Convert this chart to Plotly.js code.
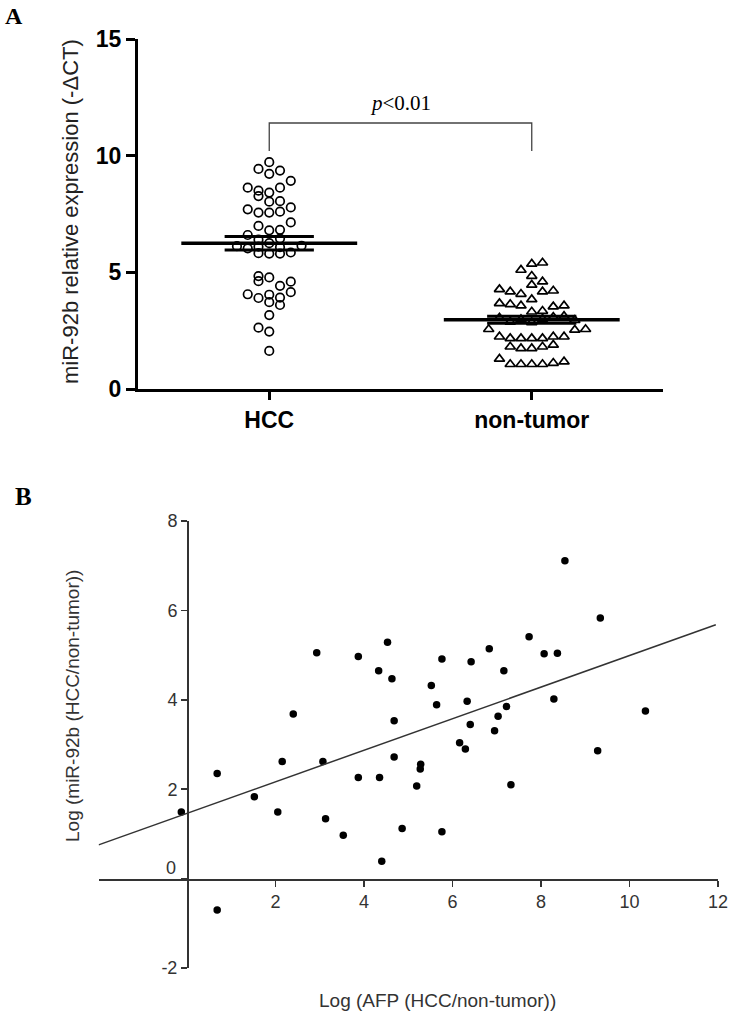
<!DOCTYPE html>
<html>
<head>
<meta charset="utf-8">
<script src="https://cdn.plot.ly/plotly-3.0.1.min.js"></script>
<style>html,body{margin:0;padding:0;background:#fff;}#chart{width:734px;height:1022px;}</style>
</head>
<body>
<div id="chart"></div>
<script>
// ---------- Panel A data ----------
const categories = ["HCC", "non-tumor"];
const hccValues = [9.72,9.43,9.36,9.22,8.92,8.63,8.50,8.42,8.63,8.27,8.03,8.05,7.70,7.56,7.56,7.60,7.78,7.14,6.99,6.80,6.82,6.60,6.40,6.45,6.25,6.12,6.03,6.10,6.08,6.14,5.82,5.80,5.80,5.85,4.84,4.78,4.62,4.42,4.60,4.06,3.90,4.04,3.92,4.15,3.72,3.60,3.17,2.63,2.46,1.63];
const hccCols   = [0,-1,1,0,2,-2,-1,0,1,-1,0,1,-2,-1,0,1,2,2,-1,0,1,-2,-1,1,0,-3,-2,-1,1,3,-1,0,1,2,-1,0,-1,1,2,-2,-1,0,1,2,0,1,0,-1,0,0];
const ntValues  = [5.36,5.41,5.10,4.84,4.46,4.60,4.27,4.17,4.17,4.21,4.07,3.84,3.67,3.63,3.57,3.53,3.57,3.31,3.34,3.05,2.88,2.98,2.85,3.00,3.08,3.12,2.95,2.56,2.53,2.56,2.24,2.17,2.17,2.17,2.17,2.24,2.24,1.81,1.74,1.74,1.81,1.89,1.29,1.06,1.06,1.06,1.06,1.11,1.17];
const ntCols    = [0,1,-1,0,0,1,-3,-2,1,2,-1,0,-3,-2,-1,2,3,0,1,-3,-2,-1,0,1,2,3,4,-4,4,5,-3,-2,-1,0,1,2,3,-2,-1,0,1,2,-3,-2,-1,0,1,2,3];
const groupMeans = [6.25, 2.97];
const groupSEM   = [0.29, 0.15];
const bracketLow = 10.2, bracketHigh = 11.4;
const pLabel = "<i>p</i>&lt;0.01";
const yTicksA = [0, 5, 10, 15];

// ---------- Panel B data ----------
const afpLog = [-0.13,0.68,0.68,1.52,2.15,2.05,3.07,3.13,3.53,3.87,4.35,4.40,4.68,4.86,5.19,5.27,5.28,5.76,2.93,3.87,4.33,2.40,8.54,9.34,7.73,8.07,8.37,4.53,6.83,5.76,6.42,7.16,4.63,5.52,8.29,6.33,5.64,7.22,7.03,10.36,4.68,6.40,6.95,6.16,6.29,9.28,7.32];
const mirLog = [1.49,2.35,-0.70,1.83,2.62,1.49,2.62,1.34,0.97,2.26,2.26,0.39,2.72,1.12,2.07,2.45,2.56,1.05,5.05,4.97,4.65,3.68,7.11,5.83,5.41,5.03,5.04,5.29,5.14,4.91,4.85,4.65,4.47,4.32,4.02,3.97,3.89,3.85,3.63,3.75,3.53,3.45,3.31,3.04,2.90,2.86,2.10];
const fitSlope = 0.353, fitIntercept = 1.46;
const fitXRange = [-2, 11.95];
const xTicksB = [2, 4, 6, 8, 10, 12];
const yTicksB = [-2, 0, 2, 4, 6, 8];

// ---------- geometry helpers ----------
const W = 734, H = 1022;
const px = v => v / W;
const py = v => 1 - v / H;
const colStep = 0.041;

const traces = [];
traces.push({
  x: hccCols.map(c => 0 + c * colStep), y: hccValues,
  type: 'scatter', mode: 'markers', xaxis: 'x', yaxis: 'y',
  marker: {symbol: 'circle-open', size: 8.5, color: '#000', line: {width: 1.7, color: '#000'}},
  hoverinfo: 'y', showlegend: false, cliponaxis: false
});
traces.push({
  x: ntCols.map(c => 1 + c * colStep), y: ntValues,
  type: 'scatter', mode: 'markers', xaxis: 'x', yaxis: 'y',
  marker: {symbol: 'triangle-up-open', size: 9, color: '#000', line: {width: 1.7, color: '#000'}},
  hoverinfo: 'y', showlegend: false, cliponaxis: false
});
groupMeans.forEach((m, i) => {
  traces.push({x: [i - 0.335, i + 0.335], y: [m, m], type: 'scatter', mode: 'lines', xaxis: 'x', yaxis: 'y',
    line: {color: '#000', width: 3.5}, showlegend: false, hoverinfo: 'skip'});
  [m + groupSEM[i], m - groupSEM[i]].forEach(s => {
    traces.push({x: [i - 0.17, i + 0.17], y: [s, s], type: 'scatter', mode: 'lines', xaxis: 'x', yaxis: 'y',
      line: {color: '#000', width: 3}, showlegend: false, hoverinfo: 'skip'});
  });
});
traces.push({x: [0, 0, 1, 1], y: [bracketLow, bracketHigh, bracketHigh, bracketLow], type: 'scatter', mode: 'lines',
  xaxis: 'x', yaxis: 'y', line: {color: '#444', width: 1.3}, showlegend: false, hoverinfo: 'skip'});

traces.push({
  x: afpLog, y: mirLog, type: 'scatter', mode: 'markers', xaxis: 'x2', yaxis: 'y2',
  marker: {symbol: 'circle', size: 7.5, color: '#000'}, showlegend: false, cliponaxis: false
});
traces.push({
  x: fitXRange, y: fitXRange.map(v => fitIntercept + fitSlope * v), type: 'scatter', mode: 'lines',
  xaxis: 'x2', yaxis: 'y2', line: {color: '#333', width: 1.5}, showlegend: false, hoverinfo: 'skip'
});

const boldTick = {family: 'Arial, Liberation Sans, sans-serif', size: 23, color: '#000', weight: 'bold'};
const thinTick = {family: 'Arial, Liberation Sans, sans-serif', size: 18, color: '#333'};
const C = {xanchor: 'center', yanchor: 'middle', showarrow: false, xref: 'paper', yref: 'paper'};

const layout = {
  width: W, height: H,
  margin: {l: 0, r: 0, t: 0, b: 0},
  paper_bgcolor: '#fff', plot_bgcolor: 'rgba(0,0,0,0)',
  font: {family: 'Arial, Liberation Sans, sans-serif', color: '#000'},
  showlegend: false,
  xaxis: {
    domain: [px(138), px(663)], range: [-0.5, 1.5], anchor: 'y',
    tickvals: [0, 1], ticktext: categories, tickfont: boldTick,
    showline: true, linewidth: 3, linecolor: '#000', ticks: 'outside', ticklen: 8, tickwidth: 3, tickcolor: '#000',
    showgrid: false, zeroline: false, fixedrange: true
  },
  yaxis: {
    domain: [py(389), py(39)], range: [0, 15], anchor: 'x',
    tickvals: yTicksA, tickfont: boldTick,
    showline: true, linewidth: 3, linecolor: '#000', ticks: 'outside', ticklen: 9, tickwidth: 3, tickcolor: '#000',
    showgrid: false, zeroline: false, fixedrange: true
  },
  xaxis2: {
    domain: [px(98.6), px(718)], range: [-2, 12], anchor: 'free', position: py(879),
    tickvals: xTicksB, tickfont: thinTick,
    showline: true, linewidth: 1.5, linecolor: '#333', ticks: 'outside', ticklen: 6, tickwidth: 1.5, tickcolor: '#333',
    showgrid: false, zeroline: false, fixedrange: true
  },
  yaxis2: {
    domain: [py(968), py(521)], range: [-2, 8], anchor: 'free', position: px(187),
    tickvals: yTicksB, ticktext: yTicksB.map(v => v === 0 ? '' : String(v)), tickfont: thinTick,
    showline: true, linewidth: 1.5, linecolor: '#333', ticks: 'outside', ticklen: 6, tickwidth: 1.5, tickcolor: '#333',
    showgrid: false, zeroline: false, fixedrange: true
  },
  annotations: [
    Object.assign({}, C, {text: 'A', x: px(14), y: py(16),
     font: {family: 'Liberation Serif, Times New Roman, serif', size: 24, weight: 'bold', color: '#000'}}),
    Object.assign({}, C, {text: 'B', x: px(24), y: py(496),
     font: {family: 'Liberation Serif, Times New Roman, serif', size: 25, weight: 'bold', color: '#000'}}),
    Object.assign({}, C, {text: pLabel, xref: 'x', yref: 'y', x: 0.5, y: bracketHigh + 0.85,
     font: {family: 'Liberation Serif, Times New Roman, serif', size: 21, color: '#000'}}),
    Object.assign({}, C, {text: 'miR-92b relative expression (-ΔCT)', x: px(70), y: py(212), textangle: -90,
     font: {size: 22, color: '#222'}}),
    Object.assign({}, C, {text: 'Log (miR-92b (HCC/non-tumor))', x: px(72), y: py(706), textangle: -90,
     font: {size: 19, color: '#333'}}),
    Object.assign({}, C, {text: 'Log (AFP (HCC/non-tumor))', x: px(437), y: py(1000),
     font: {size: 19, color: '#333'}}),
    Object.assign({}, C, {text: '0', x: px(171), y: py(868), font: thinTick})
  ]
};

Plotly.newPlot('chart', traces, layout, {displayModeBar: false, staticPlot: true});
</script>
</body>
</html>
